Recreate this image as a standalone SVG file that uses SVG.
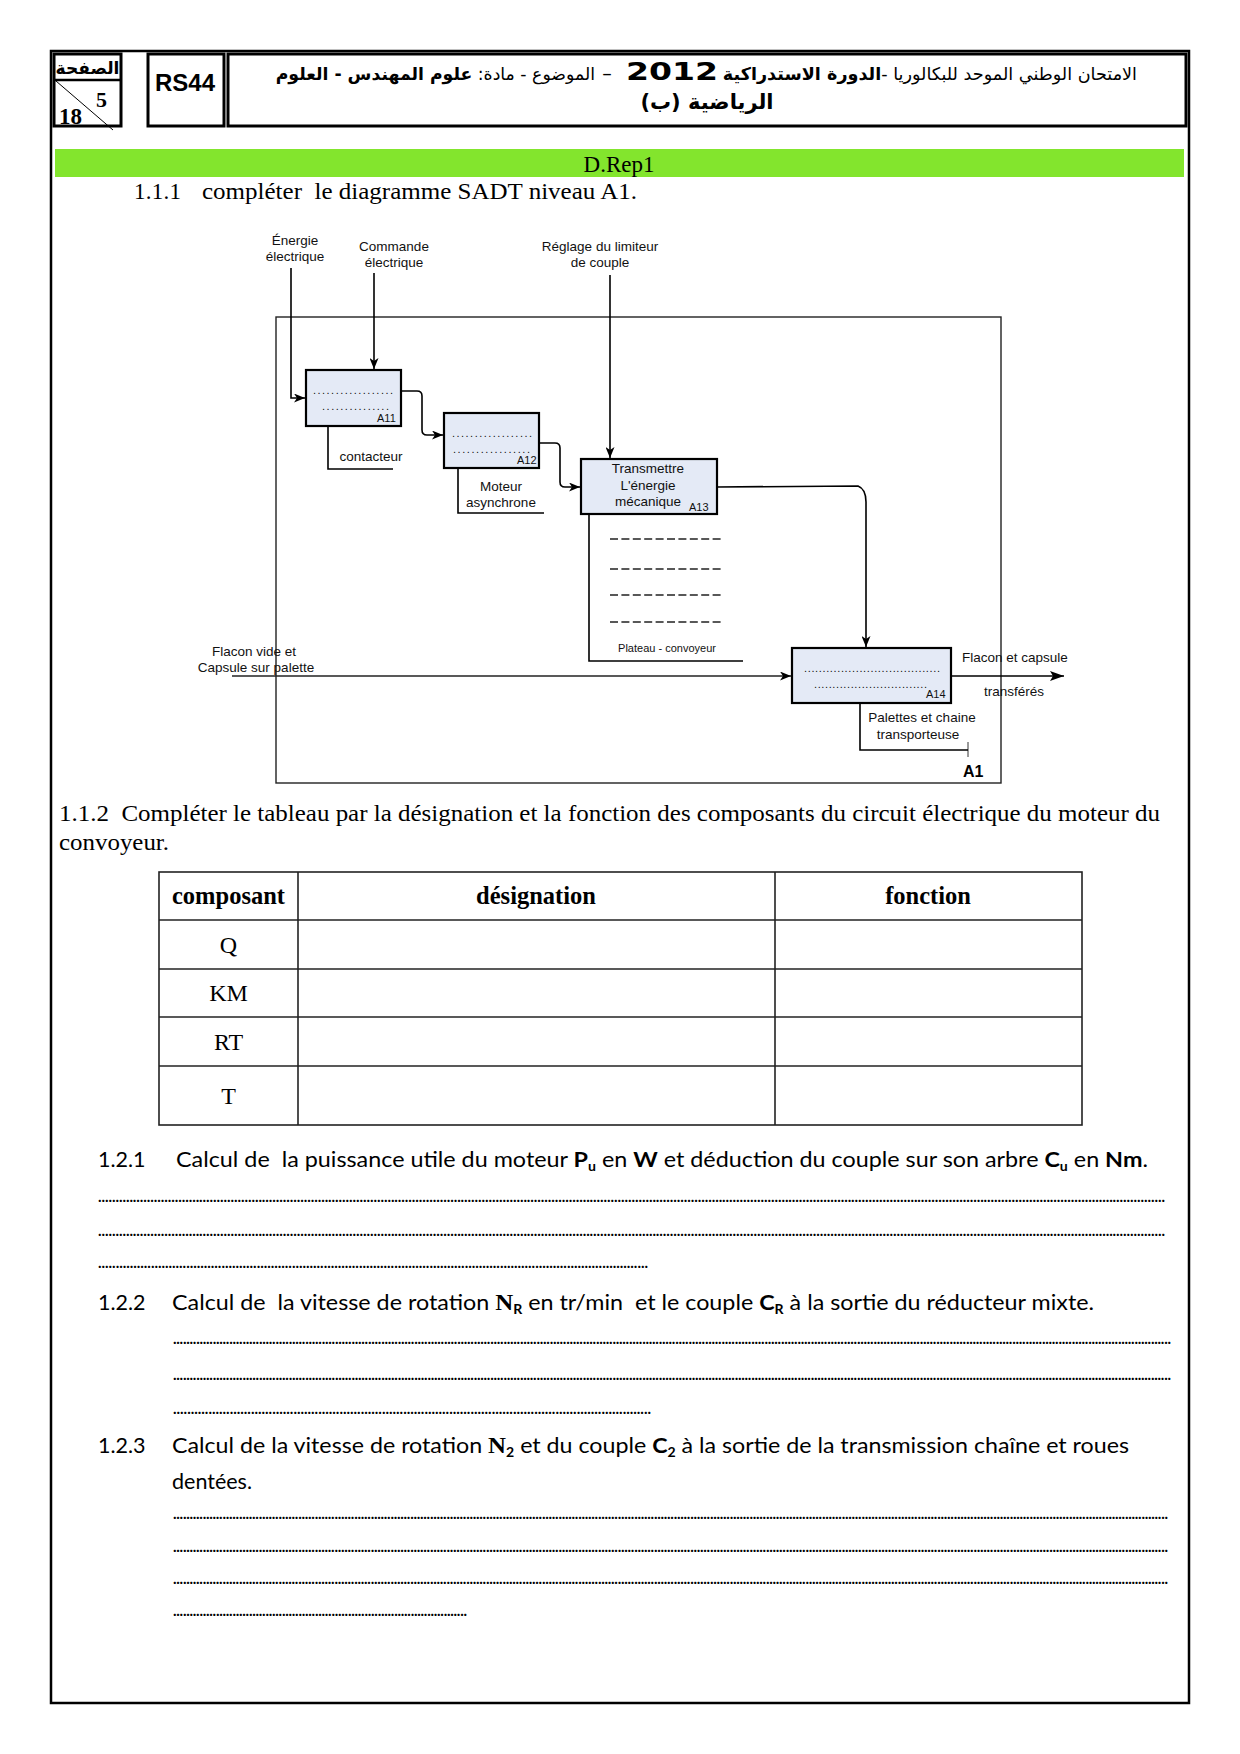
<svg xmlns="http://www.w3.org/2000/svg" width="1240" height="1754" viewBox="0 0 1240 1754">
<style>
.ln{fill:none;stroke:#000;stroke-width:1.6}
.lt{fill:none;stroke:#222;stroke-width:1.3}
.box{fill:#E4EAF6;stroke:#000;stroke-width:2.2}
.lab{font-family:"Liberation Sans",Arial,sans-serif;font-size:13.5px;fill:#111}
.sm{font-family:"Liberation Sans",Arial,sans-serif;font-size:11px;fill:#111}
.dot{font-family:"Liberation Sans",Arial,sans-serif;font-size:11px;fill:#111}
.ser{font-family:"Liberation Serif","Times New Roman",serif;font-size:23px;fill:#000}
.th{font-family:"Liberation Serif","Times New Roman",serif;font-size:24.5px;font-weight:bold;fill:#000}
.td{font-family:"Liberation Serif","Times New Roman",serif;font-size:24px;fill:#000}
.cal{font-family:Lato,"Open Sans",sans-serif;font-size:21.5px;fill:#000}
.dl{font-family:Lato,"Open Sans",sans-serif;font-size:15px;font-weight:bold;fill:#000}
.ar{font-family:"DejaVu Sans",sans-serif;fill:#000}
.tbl{fill:none;stroke:#222;stroke-width:1.6}
.hb{fill:none;stroke:#000;stroke-width:3}
</style>
<defs>
<marker id="ah" markerWidth="11" markerHeight="9" refX="11" refY="4.5" orient="auto" markerUnits="userSpaceOnUse">
<path d="M0,0 L11,4.5 L0,9 L3,4.5 z" fill="#000"/>
</marker>
<marker id="ah2" markerWidth="14" markerHeight="10" refX="14" refY="5" orient="auto" markerUnits="userSpaceOnUse">
<path d="M0,0 L14,5 L0,10 L3,5 z" fill="#000"/>
</marker>
</defs>
<rect width="1240" height="1754" fill="#fff"/>

<!-- page border -->
<rect x="51" y="51" width="1138" height="1652" fill="none" stroke="#000" stroke-width="2.5"/>

<!-- header -->
<g id="page-box">
<rect x="54" y="54" width="67" height="72" fill="none" stroke="#000" stroke-width="3"/>
<line x1="54" y1="80" x2="121" y2="80" stroke="#000" stroke-width="2.5"/>
<line x1="56" y1="81" x2="113" y2="130" stroke="#000" stroke-width="1"/>
<text x="87.5" y="74" class="ar" font-size="17" font-weight="bold" text-anchor="middle">الصفحة</text>
<text x="96" y="107" font-family="Liberation Serif,serif" font-size="22" font-weight="bold">5</text>
<text x="59" y="124" font-family="Liberation Serif,serif" font-size="23" font-weight="bold">18</text>
</g>
<g id="code-box">
<rect x="148" y="54" width="76" height="72" class="hb"/>
<text x="185" y="91" font-family="Liberation Sans,Arial,sans-serif" font-size="24" font-weight="bold" text-anchor="middle" textLength="60" lengthAdjust="spacingAndGlyphs">RS44</text>
</g>
<g id="title-box">
<rect x="228" y="54" width="958" height="72" class="hb"/>
<text x="1137" y="80" class="ar" font-size="17.6" text-anchor="end">الامتحان الوطني الموحد للبكالوريا -<tspan font-weight="bold">الدورة الاستدراكية</tspan></text>
<text x="672" y="80" font-family="DejaVu Sans,sans-serif" font-size="24" font-weight="900" text-anchor="middle" textLength="92" lengthAdjust="spacingAndGlyphs">2012</text>
<text x="607" y="80" class="ar" font-size="19" text-anchor="middle">–</text>
<text x="595" y="80" class="ar" font-size="17.3" text-anchor="end">الموضوع - مادة: <tspan font-weight="bold">علوم المهندس - العلوم</tspan></text>
<text x="707" y="109" class="ar" font-size="21" font-weight="bold" text-anchor="middle" direction="rtl">الرياضية (ب)</text>
</g>

<!-- green bar -->
<g id="drep">
<rect x="55" y="149" width="1129" height="28" fill="#83E52D"/>
<text x="619" y="172" class="ser" font-size="24" text-anchor="middle">D.Rep1</text>
</g>
<text x="134" y="199" class="ser" textLength="47" lengthAdjust="spacing">1.1.1</text>
<text x="202" y="199" class="ser" xml:space="preserve" textLength="435" lengthAdjust="spacingAndGlyphs">compléter  le diagramme SADT niveau A1.</text>

<!-- SADT frame -->
<rect x="276" y="317" width="725" height="466" fill="none" stroke="#222" stroke-width="1.4"/>

<!-- connectors -->
<g id="connectors">
<path class="ln" d="M291,268 V398 H305" marker-end="url(#ah)"/>
<path class="ln" d="M374,273 V369" marker-end="url(#ah)"/>
<path class="ln" d="M610,275 V458" marker-end="url(#ah)"/>
<path class="ln" stroke-width="2" d="M401,391 H417 Q422,391 422,396 V430 Q422,435 427,435 H443" marker-end="url(#ah)"/>
<path class="ln" stroke-width="2" d="M539,443 H555 Q560,443 560,448 V482 Q560,487 565,487 H580" marker-end="url(#ah)"/>
<path class="ln" stroke-width="2" d="M717,487 L858,486 Q866,489 866,502 V647" marker-end="url(#ah)"/>
<path class="lt" d="M232,676 H791" marker-end="url(#ah)"/>
<path class="ln" stroke-width="2" d="M951,676 H1064" marker-end="url(#ah2)"/>
<path class="ln" stroke-width="2" d="M328,426 V469 H393"/>
<path class="ln" stroke-width="2" d="M458,468 V513 H544"/>
<path class="ln" stroke-width="2" d="M589,514 V661 H743"/>
<path class="ln" stroke-width="2" d="M860,703 V750 H968"/>
<path d="M968,742 V757" stroke="#000" stroke-width="0.8"/>
</g>

<!-- external labels -->
<g id="label-energie">
<text x="295" y="245" class="lab" text-anchor="middle">Énergie</text>
<text x="295" y="261" class="lab" text-anchor="middle">électrique</text>
</g>
<g id="label-commande">
<text x="394" y="251" class="lab" text-anchor="middle">Commande</text>
<text x="394" y="267" class="lab" text-anchor="middle">électrique</text>
</g>
<g id="label-reglage">
<text x="600" y="251" class="lab" text-anchor="middle">Réglage du limiteur</text>
<text x="600" y="267" class="lab" text-anchor="middle">de couple</text>
</g>

<!-- A11 -->
<g id="A11">
<rect x="306" y="370" width="95" height="56" class="box"/>
<text x="313" y="394" class="dot" textLength="80" lengthAdjust="spacing">..................</text>
<text x="322" y="410" class="dot" textLength="67" lengthAdjust="spacing">...............</text>
<text x="377" y="422" class="sm">A11</text>
</g>
<text x="371" y="461" class="lab" text-anchor="middle">contacteur</text>

<!-- A12 -->
<g id="A12">
<rect x="444" y="413" width="95" height="55" class="box"/>
<text x="452" y="437" class="dot" textLength="80" lengthAdjust="spacing">..................</text>
<text x="453" y="453" class="dot" textLength="77" lengthAdjust="spacing">.................</text>
<text x="517" y="464" class="sm">A12</text>
</g>
<text x="501" y="491" class="lab" text-anchor="middle">Moteur</text>
<text x="501" y="507" class="lab" text-anchor="middle">asynchrone</text>

<!-- A13 -->
<g id="A13">
<rect x="581" y="459" width="136" height="55" class="box"/>
<text x="648" y="473" class="lab" text-anchor="middle">Transmettre</text>
<text x="648" y="490" class="lab" text-anchor="middle">L'énergie</text>
<text x="648" y="506" class="lab" text-anchor="middle">mécanique</text>
<text x="689" y="511" class="sm">A13</text>
</g>
<g id="A13-blanks" stroke="#222" stroke-width="1.5" stroke-dasharray="8 3.4">
<line x1="610" y1="539" x2="724" y2="539"/>
<line x1="610" y1="569" x2="724" y2="569"/>
<line x1="610" y1="595" x2="724" y2="595"/>
<line x1="610" y1="622" x2="724" y2="622"/>
</g>
<text x="667" y="652" class="sm" font-size="11.5" text-anchor="middle">Plateau - convoyeur</text>

<!-- A14 -->
<g id="A14">
<rect x="792" y="648" width="159" height="55" class="box"/>
<text x="804" y="672" class="dot" textLength="136" lengthAdjust="spacing">.....................................</text>
<text x="814" y="688" class="dot" textLength="113" lengthAdjust="spacing">...............................</text>
<text x="926" y="698" class="sm">A14</text>
</g>
<g id="label-input">
<text x="254" y="656" class="lab" text-anchor="middle">Flacon vide et</text>
<text x="256" y="672" class="lab" text-anchor="middle">Capsule sur palette</text>
</g>
<g id="label-output">
<text x="962" y="662" class="lab">Flacon et capsule</text>
<text x="984" y="696" class="lab">transférés</text>
</g>
<text x="922" y="722" class="lab" text-anchor="middle">Palettes et chaine</text>
<text x="918" y="739" class="lab" text-anchor="middle">transporteuse</text>
<text x="963" y="777" font-family="Liberation Sans,Arial,sans-serif" font-size="16" font-weight="bold">A1</text>

<!-- 1.1.2 -->
<text x="59" y="821" class="ser" font-size="24" xml:space="preserve" textLength="1101" lengthAdjust="spacingAndGlyphs">1.1.2  Compléter le tableau par la désignation et la fonction des composants du circuit électrique du moteur du</text>
<text x="59" y="850" class="ser" font-size="24" textLength="110" lengthAdjust="spacingAndGlyphs">convoyeur.</text>

<!-- table -->
<g id="table">
<rect x="159" y="872" width="923" height="253" class="tbl"/>
<line x1="298" y1="872" x2="298" y2="1125" class="tbl"/>
<line x1="775" y1="872" x2="775" y2="1125" class="tbl"/>
<line x1="159" y1="920" x2="1082" y2="920" class="tbl"/>
<line x1="159" y1="969" x2="1082" y2="969" class="tbl"/>
<line x1="159" y1="1017" x2="1082" y2="1017" class="tbl"/>
<line x1="159" y1="1066" x2="1082" y2="1066" class="tbl"/>
<text x="228.5" y="904" class="th" text-anchor="middle">composant</text>
<text x="536" y="904" class="th" text-anchor="middle">désignation</text>
<text x="928" y="904" class="th" text-anchor="middle">fonction</text>
<text x="228.5" y="953" class="td" text-anchor="middle">Q</text>
<text x="228.5" y="1001" class="td" text-anchor="middle">KM</text>
<text x="228.5" y="1050" class="td" text-anchor="middle">RT</text>
<text x="228.5" y="1104" class="td" text-anchor="middle">T</text>
</g>

<!-- 1.2.1 -->
<text x="98" y="1167" class="cal">1.2.1</text>
<text x="176" y="1167" class="cal" xml:space="preserve" textLength="972" lengthAdjust="spacingAndGlyphs">Calcul de  la puissance utile du moteur <tspan font-weight="bold">P</tspan><tspan font-weight="bold" font-size="13" dy="4">u</tspan><tspan dy="-4"> en </tspan><tspan font-weight="bold">W</tspan> et déduction du couple sur son arbre <tspan font-weight="bold">C</tspan><tspan font-weight="bold" font-size="13" dy="4">u</tspan><tspan dy="-4"> en </tspan><tspan font-weight="bold">Nm</tspan>.</text>
<text x="98" y="1202" class="dl" textLength="1067" lengthAdjust="spacing">..................................................................................................................................................................................................................................................................................................................</text>
<text x="98" y="1236" class="dl" textLength="1067" lengthAdjust="spacing">..................................................................................................................................................................................................................................................................................................................</text>
<text x="98" y="1268" class="dl" textLength="550" lengthAdjust="spacing">............................................................................................................................................................</text>

<!-- 1.2.2 -->
<text x="98" y="1310" class="cal">1.2.2</text>
<text x="172" y="1310" class="cal" xml:space="preserve" textLength="922" lengthAdjust="spacingAndGlyphs">Calcul de  la vitesse de rotation <tspan font-family="Liberation Serif,serif" font-weight="bold" font-size="23">N</tspan><tspan font-weight="bold" font-size="13" dy="4">R</tspan><tspan dy="-4"> en tr/min  et le couple </tspan><tspan font-weight="bold">C</tspan><tspan font-weight="bold" font-size="13" dy="4">R</tspan><tspan dy="-4"> à la sortie du réducteur mixte.</tspan></text>
<text x="173" y="1344" class="dl" textLength="998" lengthAdjust="spacing">..............................................................................................................................................................................................................................................................................................................</text>
<text x="173" y="1380" class="dl" textLength="998" lengthAdjust="spacing">..............................................................................................................................................................................................................................................................................................................</text>
<text x="173" y="1414" class="dl" textLength="478" lengthAdjust="spacing">.......................................................................................................................................</text>

<!-- 1.2.3 -->
<text x="98" y="1453" class="cal">1.2.3</text>
<text x="172" y="1453" class="cal" textLength="957" lengthAdjust="spacingAndGlyphs">Calcul de la vitesse de rotation <tspan font-family="Liberation Serif,serif" font-weight="bold" font-size="23">N</tspan><tspan font-weight="bold" font-size="13" dy="4">2</tspan><tspan dy="-4"> et du couple </tspan><tspan font-weight="bold">C</tspan><tspan font-weight="bold" font-size="13" dy="4">2</tspan><tspan dy="-4"> à la sortie de la transmission chaîne et roues</tspan></text>
<text x="172" y="1489" class="cal">dentées.</text>
<text x="173" y="1519" class="dl" textLength="995" lengthAdjust="spacing">..............................................................................................................................................................................................................................................................................................................</text>
<text x="173" y="1552" class="dl" textLength="995" lengthAdjust="spacing">..............................................................................................................................................................................................................................................................................................................</text>
<text x="173" y="1584" class="dl" textLength="995" lengthAdjust="spacing">..............................................................................................................................................................................................................................................................................................................</text>
<text x="173" y="1616" class="dl" textLength="294" lengthAdjust="spacing">.........................................................................................</text>
</svg>
